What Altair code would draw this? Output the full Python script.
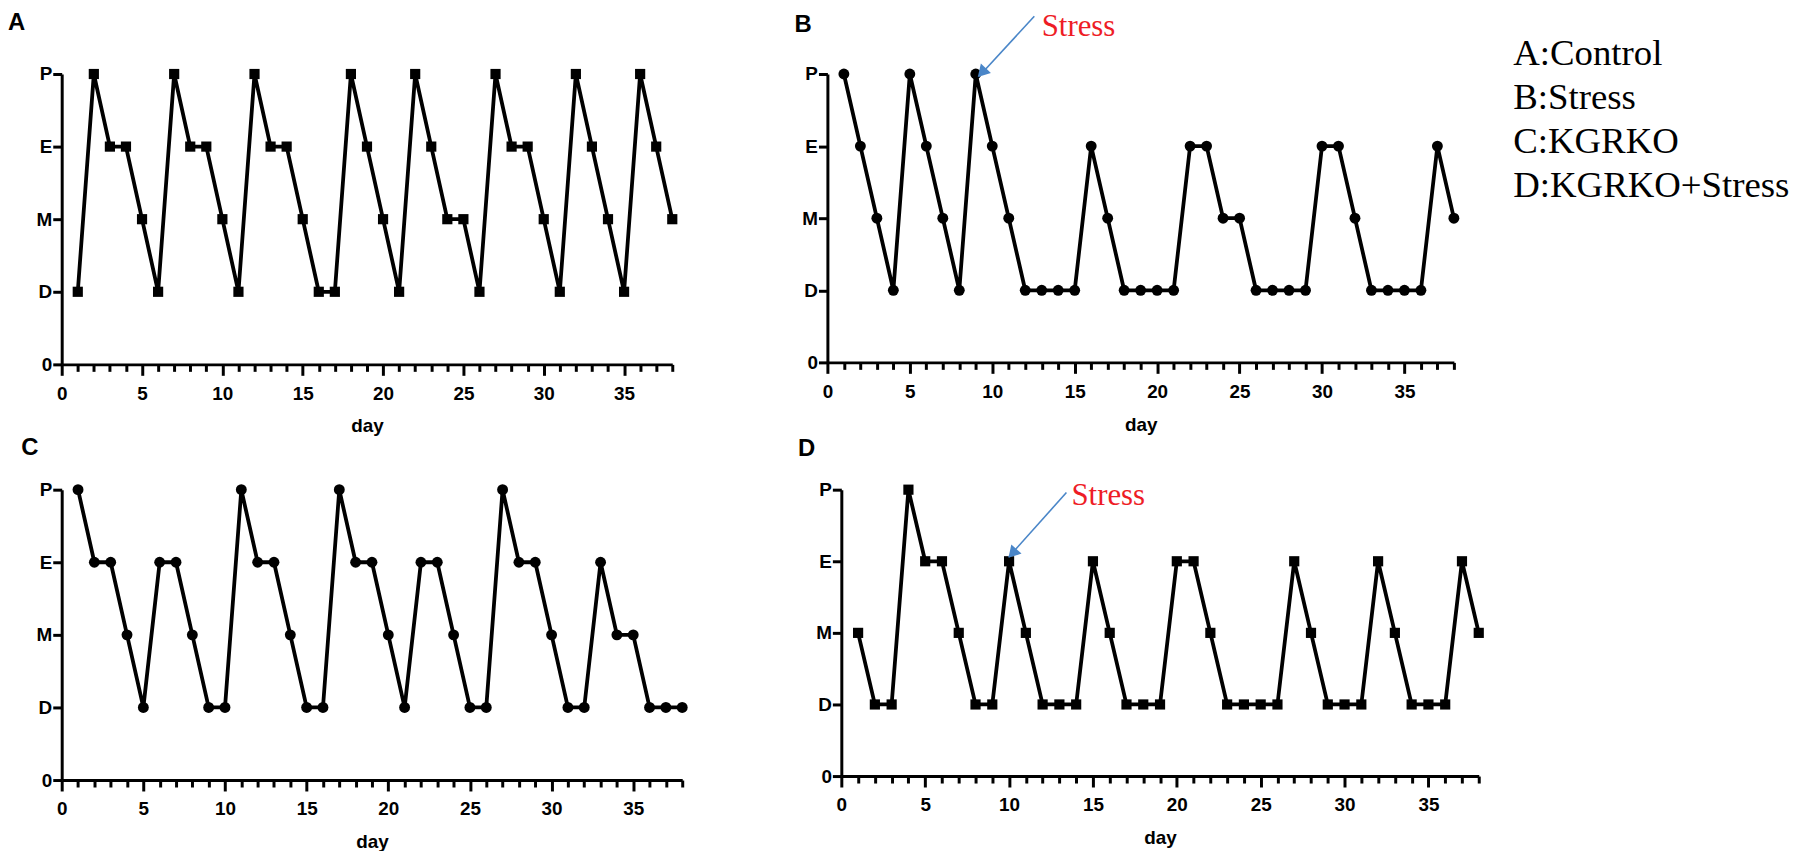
import json
import altair as alt
import pandas as pd

# ---------------- data ----------------
days = list(range(1, 39))
stage_labels = ["0", "D", "M", "E", "P"]          # y levels 0..4
stage_A = ["D","P","E","E","M","D","P","E","E","M","D","P","E","E","M","D","D","P","E","M",
           "D","P","E","M","M","D","P","E","E","M","D","P","E","M","D","P","E","M"]
stage_B = ["P","E","M","D","P","E","M","D","P","E","M","D","D","D","D","E","M","D","D","D",
           "D","E","E","M","M","D","D","D","D","E","E","M","D","D","D","D","E","M"]
stage_C = ["P","E","E","M","D","E","E","M","D","D","P","E","E","M","D","D","P","E","E","M",
           "D","E","E","M","D","D","P","E","E","M","D","D","E","M","M","D","D","D"]
stage_D = ["M","D","D","P","E","E","M","D","D","E","M","D","D","D","E","M","D","D","D","E",
           "E","M","D","D","D","D","E","M","D","D","D","E","M","D","D","D","E","M"]
x_ticks = list(range(0, 39))

legend_labels = ["A:Control", "B:Stress", "C:KGRKO", "D:KGRKO+Stress"]
legend_day = [41.6, 41.6, 41.6, 41.6]
legend_level = [4.12, 3.52, 2.90, 2.30]

annot_text = ["Stress"]
# annotation anchors in data units (day, level)
b_text = {"day": [13.0], "level": [4.53]}
b_arrow = {"day": [12.55], "level": [4.80], "day2": [9.2], "level2": [3.97]}
b_head = {"day": [9.45], "level": [4.04]}
d_text = {"day": [13.72], "level": [3.79]}
d_arrow = {"day": [13.42], "level": [3.96], "day2": [9.98], "level2": [3.06]}
d_head = {"day": [10.28], "level": [3.13]}

# ---------------- helpers ----------------
y_label_expr = json.dumps(stage_labels) + "[datum.value]"
AX_FONT = "Liberation Sans Narrow, Liberation Sans"

x_axis = alt.Axis(values=x_ticks, labelExpr="datum.value % 5 === 0 ? datum.label : ''",
                  tickSize={"condition": {"test": "datum.value % 5 === 0", "value": 11},
                            "value": 7},
                  labelPadding=9, titlePadding=14, labelAngle=0,
                  labelFlush=False, labelOverlap=False)
y_axis = alt.Axis(values=[0, 1, 2, 3, 4], labelExpr=y_label_expr, tickSize=9,
                  labelPadding=1, labelOverlap=False)


def ex(field):
    return alt.X(field, type="quantitative", title="day", axis=x_axis,
                 scale=alt.Scale(domain=[0, 38], nice=False, zero=False))


def ey(field):
    return alt.Y(field, type="quantitative", title=None, axis=y_axis,
                 scale=alt.Scale(domain=[0, 4], nice=False))


def series_layers(stages, shape, size):
    df = pd.DataFrame({"day": days, "level": [stage_labels.index(s) for s in stages]})
    base = alt.Chart(df).encode(x=ex("day"), y=ey("level"))
    line = base.mark_line(color="black", strokeWidth=3.8)
    pts = base.mark_point(shape=shape, filled=True, size=size, color="black", opacity=1)
    return [line, pts]


def stress_layers(text_pos, arrow, head, angle):
    tdf = pd.DataFrame({**text_pos, "label": annot_text})
    adf = pd.DataFrame(arrow)
    hdf = pd.DataFrame(head)
    txt = alt.Chart(tdf).mark_text(align="left", baseline="alphabetic",
                                   font="Liberation Serif", fontSize=31,
                                   color="#ee1c25").encode(x=ex("day"), y=ey("level"), text="label:N")
    rule = alt.Chart(adf).mark_rule(color="#4a86c8", strokeWidth=1.6).encode(
        x=ex("day"), y=ey("level"), x2=alt.X2("day2"), y2=alt.Y2("level2"))
    tri = alt.Chart(hdf).mark_point(shape="triangle", filled=True, size=190, color="#4a86c8",
                                    opacity=1, angle=angle).encode(x=ex("day"), y=ey("level"))
    return [rule, tri, txt]


def letter_title(letter, dx, offset, dy=0):
    return alt.TitleParams(text=letter, anchor="start", frame="group", dx=dx, dy=dy,
                           offset=offset, font="Liberation Sans", fontSize=24,
                           fontWeight="bold", color="black", baseline="alphabetic")


legend_df = pd.DataFrame({"day": legend_day, "level": legend_level, "label": legend_labels})
legend_layer = alt.Chart(legend_df).mark_text(align="left", baseline="alphabetic",
                                              font="Liberation Serif", fontSize=37,
                                              color="black").encode(
    x=ex("day"), y=ey("level"), text="label:N")

panel_A = alt.layer(*series_layers(stage_A, "square", 105)).properties(
    width=614, height=292, title=letter_title("A", -54, 11))
panel_B = alt.layer(*series_layers(stage_B, "circle", 120),
                    *stress_layers(b_text, b_arrow, b_head, 223),
                    legend_layer).properties(
    width=630, height=290, title=letter_title("B", -33, 0, 45))
panel_C = alt.layer(*series_layers(stage_C, "circle", 120)).properties(
    width=624, height=292, title=letter_title("C", -40.6, 2))
panel_D = alt.layer(*series_layers(stage_D, "square", 105),
                    *stress_layers(d_text, d_arrow, d_head, 222)).properties(
    width=641, height=288, title=letter_title("D", -43.6, 0, 0))

row1 = alt.hconcat(panel_A, panel_B, spacing=115)
row2 = alt.hconcat(panel_C, panel_D, spacing=108)

chart = alt.vconcat(row1, row2, spacing=0).properties(padding=0).configure_view(
    stroke=None
).configure_axis(
    domainColor="black", domainWidth=3, tickColor="black", tickWidth=3,
    labelFont=AX_FONT, labelFontSize=19, labelFontWeight="bold", labelColor="black",
    titleFont="Liberation Sans", titleFontSize=19, titleFontWeight="bold", titleColor="black",
    grid=False
)

chart.save("out.html", embed_options={"renderer": "svg", "actions": False})
